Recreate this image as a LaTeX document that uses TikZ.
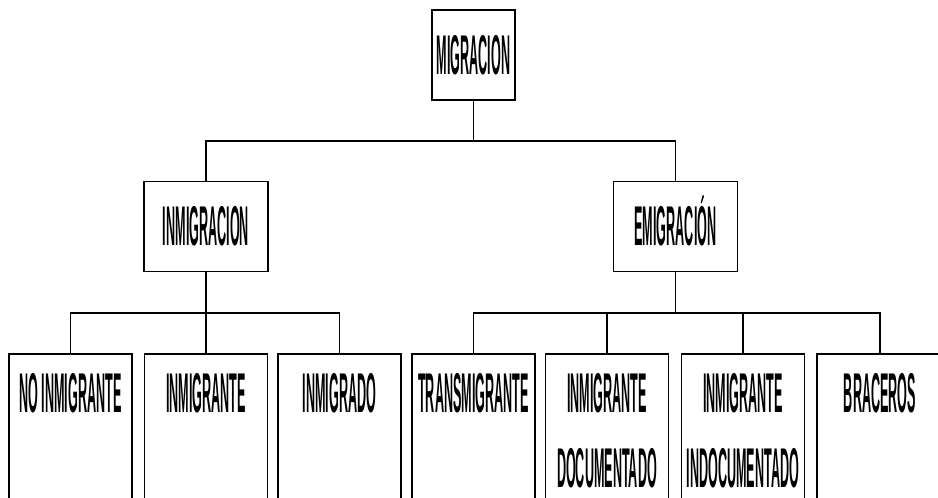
\documentclass[tikz,border=0pt]{standalone}
\usepackage{fontspec}
\setmainfont{Liberation Sans}
\usepackage{graphicx}
\usetikzlibrary{positioning}

\newcommand{\lbl}[1]{\scalebox{.225}[1]{\fontsize{56}{75}\selectfont\bfseries\begin{tabular}[t]{@{}c@{}}#1\end{tabular}}}

\tikzset{
  topbox/.style={draw, line width=1.5pt, inner sep=0pt, minimum width=124pt, minimum height=90pt, text height=38.5pt, text depth=0pt},
  leafbox/.style={draw, line width=1.5pt, inner sep=0pt, minimum width=123pt, anchor=north, text height=59pt, text depth=200pt},
  link/.style={line width=1.5pt}
}

\begin{document}
\begin{tikzpicture}[x=1pt,y=-1pt]
    \useasboundingbox (0,0) rectangle (938,498);
    \clip (0,0) rectangle (938,498);

    % levels 1 and 2
    \node[topbox,minimum width=83pt] (mig) at (473.5,55)  {\lbl{MIGRACION}};
    \node[topbox] (inm) at (206,226.5)  {\lbl{INMIGRACION}};
    \node[topbox] (emi) at (675.5,226.5) {\lbl{EMIGRACIÓN}};

    % leaves
    \node[leafbox] (noi) at (70.5,353)  {\lbl{NO INMIGRANTE}};
    \node[leafbox] (img) at (206,353)   {\lbl{INMIGRANTE}};
    \node[leafbox] (imd) at (339.5,353) {\lbl{INMIGRADO}};
    \node[leafbox] (tra) at (473.5,353) {\lbl{TRANSMIGRANTE}};
    \node[leafbox] (doc) at (607,353)   {\lbl{INMIGRANTE\\DOCUMENTADO}};
    \node[leafbox] (ind) at (743,353)   {\lbl{INMIGRANTE\\INDOCUMENTADO}};
    \node[leafbox,minimum width=126pt] (bra) at (880,353) {\lbl{BRACEROS}};

    % connectors
    \coordinate (bar1) at (473.5,141);
    \coordinate (barl) at (206,313);
    \coordinate (barr) at (675.5,313);

    \draw[link] (mig.south) -- (bar1);
    \draw[link] (inm.north) |- (bar1) -| (emi.north);

    \draw[link] (inm.south) -- (img.north);
    \draw[link] (noi.north) |- (barl) -| (imd.north);

    \draw[link] (emi.south) -- (barr);
    \draw[link] (tra.north) |- (barr) -| (bra.north);
    \draw[link] (doc.north) -- (doc.north |- barr);
    \draw[link] (ind.north) -- (ind.north |- barr);
\end{tikzpicture}
\end{document}
